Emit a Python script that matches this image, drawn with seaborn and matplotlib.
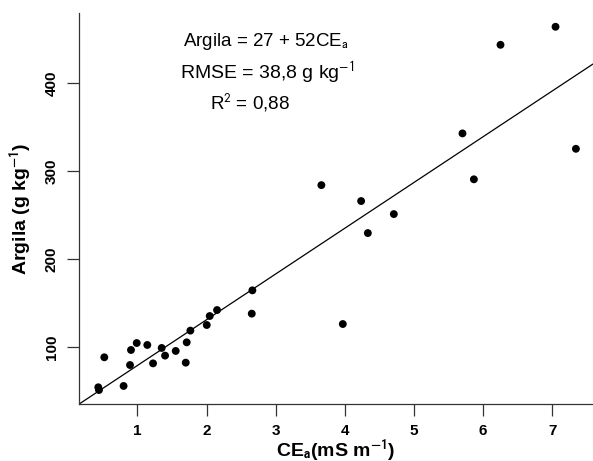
import matplotlib
matplotlib.use("Agg")
import matplotlib.pyplot as plt
import seaborn as sns
import pandas as pd

# Data
cea = [0.434, 0.444, 0.521, 0.80, 0.893, 0.907, 0.99, 1.143, 1.226, 1.351,
       1.40, 1.554, 1.699, 1.713, 1.766, 2.003, 2.046, 2.152, 2.663, 2.654,
       3.661, 3.971, 4.236, 4.333, 4.709, 5.702, 5.867, 6.252, 7.048, 7.343]
argila = [54.2, 51.1, 88.3, 55.7, 79.5, 96.6, 104.5, 102.3, 81.4, 98.9,
          90.2, 95.5, 82.2, 105.3, 118.6, 125.0, 135.2, 142.0, 164.4, 137.9,
          284.0, 126.1, 265.9, 229.5, 251.1, 342.8, 290.6, 443.5, 464.0, 325.3]
intercept = 27
slope = 52
xticks = [1, 2, 3, 4, 5, 6, 7]
yticks = [100, 200, 300, 400]

df = pd.DataFrame({"CEa": cea, "Argila": argila})

sns.set_style("ticks")
FONT = "Liberation Sans"
MF = "stixsans"

W, H = 593, 461
L, B, T = 79, 404, 12.7
fig = plt.figure(figsize=(W / 100, H / 100), dpi=100)
ax = fig.add_axes([L / W, 1 - B / H, 1 - L / W, (B - T) / H])

sns.scatterplot(data=df, x="CEa", y="Argila", ax=ax, color="black",
                s=32, edgecolor="none", linewidth=0, zorder=3)
ax.axline((0, intercept), slope=slope, color="black", lw=0.9, zorder=2)

ax.set_xlim(0.155, 7.59)
ax.set_ylim(35.2, 480)
ax.set_xticks(xticks)
ax.set_yticks(yticks)
ax.tick_params(axis="both", length=8.5, width=0.9, color="#333333", pad=6)
ax.set_xticklabels([str(t) for t in xticks], fontweight="bold", fontsize=11,
                   fontfamily=FONT, color="black")
ax.set_yticklabels([str(t) for t in yticks], fontweight="bold", fontsize=11,
                   rotation=90, va="center", fontfamily=FONT, color="black")

for s in ["top", "right"]:
    ax.spines[s].set_visible(False)
for s in ["left", "bottom"]:
    ax.spines[s].set_linewidth(0.9)
    ax.spines[s].set_color("#333333")

ax.set_xlabel(r"CE$_\mathbf{a}$(mS m$^{\mathbf{-1}}$)", fontweight="bold",
              fontsize=14, labelpad=0, fontfamily=FONT, color="black",
              math_fontfamily=MF)
ax.set_ylabel(r"Argila (g kg$^{\mathbf{-1}}$)", fontweight="bold",
              fontsize=14, labelpad=8, fontfamily=FONT, color="black",
              math_fontfamily=MF)

fig.text(266/593, 1 - 46/461, r"Argila = 27 + 52CE$_{\rm a}$",
         fontsize=13.5, ha="center", va="baseline", fontfamily=FONT,
         color="black", math_fontfamily=MF)
fig.text(267/593, 1 - 79/461, r"RMSE = 38,8 g kg$^{-1}$",
         fontsize=14, ha="center", va="baseline", fontfamily=FONT,
         color="black", math_fontfamily=MF)
fig.text(250/593, 1 - 109/461, r"R$^{2}$ = 0,88",
         fontsize=13.5, ha="center", va="baseline", fontfamily=FONT,
         color="black", math_fontfamily=MF)

fig.text(20/593, 1 + 4/461, "g", fontsize=13, fontweight="bold",
         ha="center", va="baseline", fontfamily=FONT, color="black")

fig.savefig("out.png", dpi=100)
